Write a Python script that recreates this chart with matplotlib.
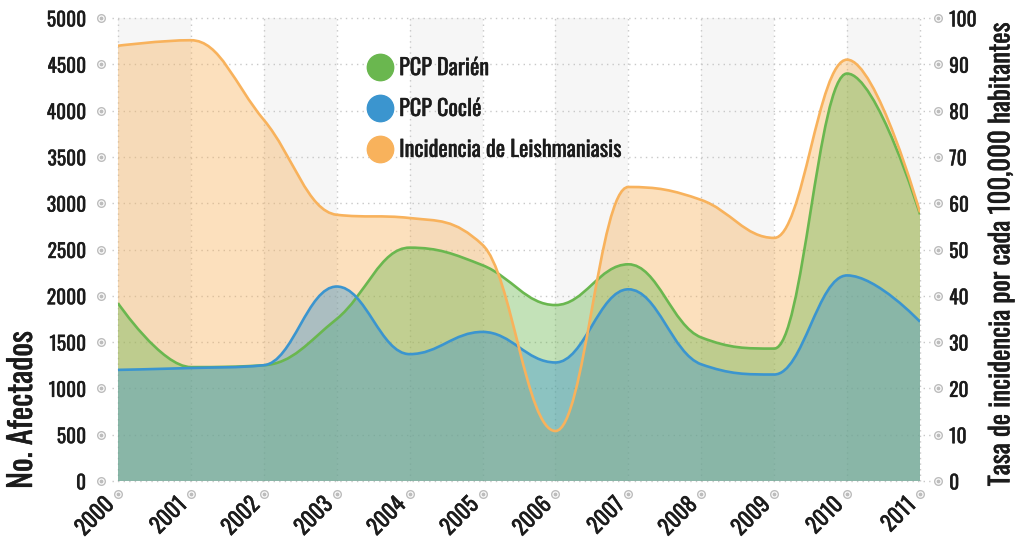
import matplotlib
matplotlib.use("Agg")
import matplotlib.pyplot as plt
from matplotlib.path import Path
from matplotlib.patches import PathPatch
from matplotlib.lines import Line2D
from matplotlib.text import Text
from matplotlib import transforms, patheffects

years = list(range(2000, 2012))
darien = [1920, 1230, 1250, 1750, 2520, 2330, 1900, 2340, 1550, 1430, 4400, 2880]
cocle = [1200, 1220, 1250, 2100, 1370, 1610, 1280, 2070, 1260, 1150, 2220, 1720]
incidencia = [94.0, 95.2, 78.0, 57.5, 56.8, 51.0, 10.8, 63.5, 60.7, 52.5, 91.0, 58.0]

left_ticks = list(range(0, 5001, 500))
right_ticks = list(range(0, 101, 10))

GREEN = "#6ab74f"
BLUE = "#3b95cf"
ORANGE = "#f8b25c"
TXT = "#1c1c1c"

plt.rcParams["font.family"] = ["Oswald", "Roboto Condensed", "DejaVu Sans"]


def spline_path(xs, ys, baseline=None, sm=1.5):
    # areaspline style cubic segments
    n = len(xs)
    lc = [None] * n
    rc = [None] * n
    d = sm + 1
    for i in range(1, n - 1):
        px, py = xs[i], ys[i]
        lx, ly = xs[i - 1], ys[i - 1]
        nx, ny = xs[i + 1], ys[i + 1]
        lcx, lcy = (sm * px + lx) / d, (sm * py + ly) / d
        rcx, rcy = (sm * px + nx) / d, (sm * py + ny) / d
        corr = (rcy - lcy) * (rcx - px) / (rcx - lcx) + py - rcy
        lcy += corr
        rcy += corr
        if lcy > ly and lcy > py:
            lcy = max(ly, py)
            rcy = 2 * py - lcy
        elif lcy < ly and lcy < py:
            lcy = min(ly, py)
            rcy = 2 * py - lcy
        if rcy > ny and rcy > py:
            rcy = max(ny, py)
            lcy = 2 * py - rcy
        elif rcy < ny and rcy < py:
            rcy = min(ny, py)
            lcy = 2 * py - rcy
        lc[i] = (lcx, lcy)
        rc[i] = (rcx, rcy)
    verts = [(xs[0], ys[0])]
    codes = [Path.MOVETO]
    for i in range(1, n):
        c1 = rc[i - 1] or (xs[i - 1], ys[i - 1])
        c2 = lc[i] or (xs[i], ys[i])
        verts += [c1, c2, (xs[i], ys[i])]
        codes += [Path.CURVE4] * 3
    if baseline is not None:
        verts += [(xs[-1], baseline), (xs[0], baseline), (xs[0], ys[0])]
        codes += [Path.LINETO, Path.LINETO, Path.CLOSEPOLY]
    return Path(verts, codes)


fig = plt.figure(figsize=(10.16, 5.4), dpi=100)
ax = fig.add_axes([118 / 1016, 59 / 540, 802 / 1016, 463 / 540])
ax2 = ax.twinx()
ax.set_zorder(2)
ax.patch.set_visible(False)

ax.set_xlim(2000, 2011)
ax.set_ylim(0, 5000)
ax2.set_ylim(0, 100)

# alternating bands
for i in range(0, 11, 2):
    ax2.axvspan(years[i], years[i + 1], color="#f6f6f6", zorder=0, lw=0)

grid_kw = dict(color="#c8c8c8", lw=1, ls=(0, (1, 3)), clip_on=False, zorder=1)
for v in left_ticks:
    ax2.axhline(v / 50, xmin=-0.007, xmax=1.012, **grid_kw)
for yr in years:
    ax2.axvline(yr, ymin=0, ymax=1, **grid_kw)

# areas
ax.add_patch(PathPatch(spline_path(years, incidencia, 0), transform=ax2.transData,
                       fc=ORANGE, alpha=0.4, lw=0, zorder=2))
ax.add_patch(PathPatch(spline_path(years, darien, 0), fc=GREEN, alpha=0.4, lw=0, zorder=3))
ax.add_patch(PathPatch(spline_path(years, cocle, 0), fc=BLUE, alpha=0.4, lw=0, zorder=4))
ax.add_patch(PathPatch(spline_path(years, darien), fill=False, ec=GREEN, lw=1.9, zorder=5))
ax.add_patch(PathPatch(spline_path(years, cocle), fill=False, ec=BLUE, lw=1.9, zorder=6))
ax.add_patch(PathPatch(spline_path(years, incidencia), transform=ax2.transData,
                       fill=False, ec=ORANGE, lw=1.9, zorder=7))

for s in list(ax.spines.values()) + list(ax2.spines.values()):
    s.set_visible(False)

ax.set_yticks(left_ticks)
ax.set_yticklabels([str(v) for v in left_ticks])
ax2.set_yticks(right_ticks)
ax2.set_yticklabels([str(v) for v in right_ticks])
ax.set_xticks(years)
ax.set_xticklabels([str(y) for y in years], rotation=45, ha="right", va="bottom",
                   rotation_mode="anchor")
ax.tick_params(axis="y", length=0, pad=23, labelsize=14, labelcolor=TXT)
ax2.tick_params(axis="y", length=0, pad=21, labelsize=14, labelcolor=TXT)
ax.tick_params(axis="x", length=0, pad=20, labelsize=15.5, labelcolor=TXT)

# circular tick markers
mk = dict(marker="o", ms=5.5, mfc="white", mec="#bdbdbd", mew=1, ls="none",
          clip_on=False, zorder=8)
dot = dict(marker="o", ms=1.8, mfc="#bdbdbd", mec="#bdbdbd", ls="none",
           clip_on=False, zorder=9)
tl = transforms.offset_copy(transforms.blended_transform_factory(ax.transAxes, ax.transData),
                            fig=fig, x=-17, y=0, units="dots")
tr = transforms.offset_copy(transforms.blended_transform_factory(ax.transAxes, ax.transData),
                            fig=fig, x=18, y=0, units="dots")
tb = transforms.offset_copy(transforms.blended_transform_factory(ax.transData, ax.transAxes),
                            fig=fig, x=0, y=-13, units="dots")
for t, xs_, ys_ in [(tl, [0] * len(left_ticks), left_ticks),
                    (tr, [1] * len(left_ticks), left_ticks),
                    (tb, years, [0] * len(years))]:
    ax.plot(xs_, ys_, transform=t, **mk)
    ax.plot(xs_, ys_, transform=t, **dot)

fig.text(22 / 1016, 1 - 410 / 540, "No. Afectados", rotation=90, ha="center",
         va="center", fontsize=23, color=TXT)
fig.text(1001 / 1016, 1 - 255 / 540, "Tasa de incidencia por cada 100,000 habitantes",
         rotation=90, ha="center", va="center", fontsize=19.3, color=TXT)

handles = [Line2D([], [], marker="o", ls="none", ms=19, mfc=c, mec=c)
           for c in (GREEN, BLUE, ORANGE)]
ax.legend(handles, ["PCP Darién", "PCP Coclé", "Incidencia de Leishmaniasis"],
          loc="upper left", bbox_to_anchor=(358 / 1016, 1 - 46 / 540),
          bbox_transform=fig.transFigure, frameon=False, fontsize=16,
          handlelength=1.0, handletextpad=0.35, labelspacing=0.85, borderpad=0,
          labelcolor=TXT)

# slightly heavier strokes on every text
for t in fig.findobj(Text):
    t.set_path_effects([patheffects.withStroke(linewidth=0.3, foreground=TXT)])

fig.savefig("out.png", dpi=100)
